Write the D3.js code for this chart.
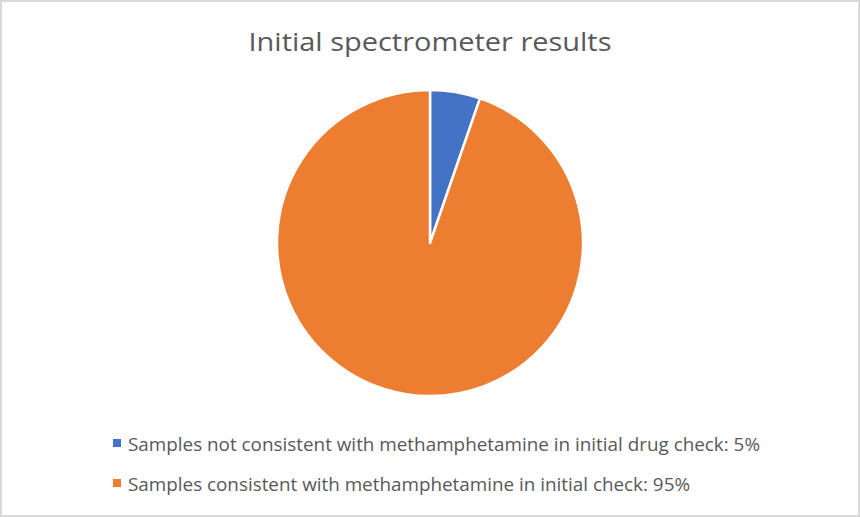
<!DOCTYPE html>
<html><head><meta charset="utf-8">
<script src="https://cdn.jsdelivr.net/npm/d3@7"></script>
<style>body{margin:0;background:#fff;}svg{display:block;}</style>
</head><body>
<script>
const title = "Initial spectrometer results";
const categories = [
  "Samples not consistent with methamphetamine in initial drug check: 5%",
  "Samples consistent with methamphetamine in initial check: 95%"
];
const values = [5.3, 94.7];
const colors = ["#4472C4", "#ED7D31"];

const W = 860, H = 517;
const svg = d3.select("body").append("svg").attr("width", W).attr("height", H);
svg.append("rect").attr("x",1).attr("y",1).attr("width",W-2).attr("height",H-2)
  .attr("fill","#fff").attr("stroke","#d9d9d9").attr("stroke-width",2);

const font = "'Open Sans', 'Noto Sans', sans-serif";
svg.append("text").attr("x",430).attr("y",51).attr("text-anchor","middle")
  .attr("font-family",font).attr("font-size",25).attr("fill","#595959")
  .attr("textLength",363).attr("lengthAdjust","spacingAndGlyphs").text(title);

const cx = 430, cy = 243, r = 153;
const pie = d3.pie().sort(null).value(d=>d)(values);
const arc = d3.arc().innerRadius(0).outerRadius(r);
svg.append("g").attr("transform",`translate(${cx},${cy})`)
  .selectAll("path").data(pie).join("path")
  .attr("d",arc).attr("fill",(d,i)=>colors[i])
  .attr("stroke","#fff").attr("stroke-width",2.5).attr("stroke-linejoin","round");

const legY = d3.scalePoint().domain(d3.range(categories.length)).range([451,491]);
const widths = [632, 562];
const lg = svg.append("g").selectAll("g").data(categories).join("g");
lg.append("rect").attr("x",113).attr("y",(d,i)=>legY(i)-12).attr("width",8).attr("height",8)
  .attr("fill",(d,i)=>colors[i]);
lg.append("text").attr("x",128).attr("y",(d,i)=>legY(i))
  .attr("font-family",font).attr("font-size",18).attr("fill","#595959")
  .attr("textLength",(d,i)=>widths[i]).attr("lengthAdjust","spacingAndGlyphs")
  .text(d=>d);
</script>
</body></html>
